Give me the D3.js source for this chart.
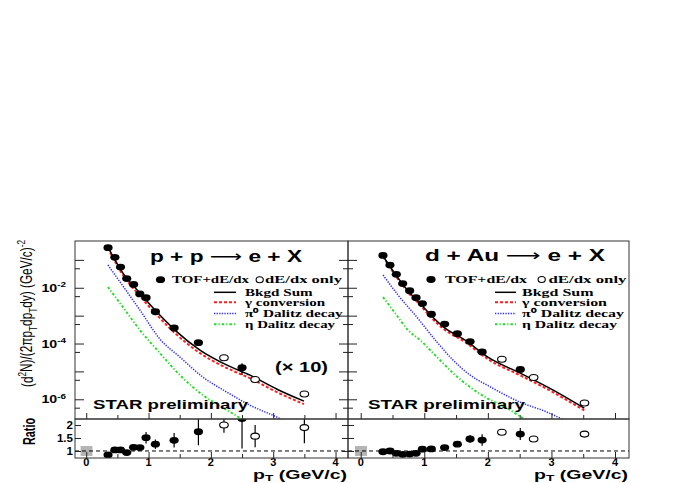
<!DOCTYPE html>
<html><head><meta charset="utf-8">
<script src="https://cdn.jsdelivr.net/npm/d3@7/dist/d3.min.js"></script>
<style>body{margin:0;background:#fff}svg{display:block}</style>
</head><body><svg id="c" width="690" height="483"></svg>
<script>
// ---------------- data ----------------
// p+p (scaled x10), filled = TOF+dE/dx, open = dE/dx only
const ppPt      = [0.35,0.46,0.55,0.65,0.76,0.86,0.96,1.11,1.41,1.80,2.50];
const ppYield   = [0.275,0.123,0.055,0.0214,0.0132,0.0060,0.0044,1.38e-3,3.6e-4,1.07e-4,1.35e-5];
const ppYErr    = [0,0,0,0,0,0,0,0,0,0,0.6e-5];
const ppOpenPt  = [2.21,2.71,3.50];
const ppOpenY   = [3.1e-5,5.1e-6,1.55e-6];
const ppRatio   = [0.85,1.04,1.04,0.94,1.14,1.13,1.51,1.26,1.41,1.74,2.25];
const ppRatErr  = [0,0,0,0,0.04,0.04,0.22,0.18,0.28,0.52,1.15];
const ppOpenRat = [2.0,1.57,1.9];
const ppOpenRatErr = [0.3,0.43,0.6];
// p+p background curves
const ppSumPt   = [0.348,0.589,0.862,1.135,1.424,1.825,2.258,2.627,3.061,3.494];
const ppSum     = [0.289,0.0337,6.46e-3,1.34e-3,3.03e-4,5.79e-5,1.67e-5,7.33e-6,2.30e-6,8.55e-7];
const ppGam     = [0.266,0.0285,5.04e-3,1.05e-3,2.36e-4,4.52e-5,1.31e-5,5.71e-6,1.80e-6,6.67e-7];
const ppPi0Pt   = [0.348,0.589,0.862,1.183,1.504,1.873,2.258,2.627,3.061,3.3];
const ppPi0     = [0.0653,0.0115,1.58e-3,1.44e-4,3.25e-5,6.22e-6,1.80e-6,6.14e-7,2.28e-7,1.26e-7];
const ppEtaPt   = [0.348,0.589,0.862,1.183,1.504,1.873,2.258,2.467,2.6];
const ppEta     = [0.0106,2.03e-3,3.03e-4,4.52e-5,7.33e-6,1.40e-6,4.06e-7,2.09e-7,1.12e-7];

// d+Au
const daPt      = [0.35,0.46,0.56,0.66,0.77,0.87,0.97,1.11,1.32,1.52,1.72,1.91,2.51];
const daYield   = [0.145,0.0653,0.0302,0.0141,7.8e-3,4.4e-3,2.7e-3,1.12e-3,5.0e-4,2.26e-4,1.17e-4,5.0e-5,1.17e-5];
const daOpenPt  = [2.22,2.72,3.52];
const daOpenY   = [2.72e-5,6.07e-6,7.4e-7];
const daRatio   = [0.97,1.0,0.91,0.87,0.88,0.91,1.07,1.08,1.13,1.26,1.46,1.42,1.65];
const daRatErr  = [0,0,0,0,0,0,0.03,0.03,0.04,0.1,0.15,0.22,0.23];
const daOpenRat = [1.72,1.46,1.65];
const daOpenRatErr = [0,0,0];
const daSumPt   = [0.35,0.55,0.75,0.95,1.1,1.3,1.643,2.0,2.509,3.028,3.516];
const daSum     = [0.138,0.0295,7.41e-3,2.51e-3,1.05e-3,3.98e-4,1.32e-4,3.25e-5,8.65e-6,2.12e-6,4.79e-7];
const daGam     = [0.132,0.0269,6.61e-3,2.19e-3,8.91e-4,3.39e-4,1.12e-4,2.75e-5,7.24e-6,1.78e-6,3.98e-7];
const daPi0Pt   = [0.351,0.587,0.855,1.201,1.453,1.721,1.989,2.509,2.934,3.139,3.3];
const daPi0     = [0.0286,5.47e-3,1.05e-3,1.12e-4,2.54e-5,7.33e-6,3.21e-6,7.87e-7,3.44e-7,2.09e-7,1.41e-7];
const daEtaPt   = [0.351,0.540,0.745,0.934,1.201,1.453,1.721,1.989,2.304,2.556,2.7];
const daEta     = [4.63e-3,1.24e-3,3.03e-4,1.32e-4,3.25e-5,8.65e-6,2.72e-6,1.09e-6,4.79e-7,2.09e-7,1.41e-7];

const xTickMajor = [0,1,2,3,4];
const xTickLabels = ["0","1","2","3","4"];
const yDecades = [-1,-2,-3,-4,-5,-6];
const yLabelExp = [-2,-4,-6];
const ratioTicks = [1,1.5,2];
const ratioLabels = ["1","1.5","2"];
const legendLabels = ["Bkgd Sum","\u03b3 conversion","\u03c0\u2070 Dalitz decay","\u03b7 Dalitz decay"];

// ---------------- drawing ----------------
const sans = "'Liberation Sans', Arial, Helvetica, sans-serif";
const serif = "'Liberation Serif', 'Times New Roman', serif";
const svg = d3.select('#c');
const defs = svg.append('defs');

const TOP0 = 241, TOP1 = 419, RAT1 = 458;
const yTop = d3.scaleLog().domain([Math.pow(10,-6.707), Math.pow(10,-0.323)]).range([TOP1, TOP0]);
const yRat = d3.scaleLinear().domain([0.73,2.23]).range([RAT1, TOP1]);

const colSum = '#000', colGam = '#ff1f1f', colPi = '#2a2aff', colEta = '#22dd22';
const styles = [
  {c: colSum, w: 1.5, d: null},
  {c: colGam, w: 2, d: '3,2'},
  {c: colPi,  w: 1.5, d: '1.3,1.3'},
  {c: colEta, w: 1.9, d: '2.5,2,1.2,2'}
];

function txt(sel, x, y, parts, o) {
  o = o || {};
  const sx = o.sx || 1;
  const t = sel.append('text')
    .attr('transform', `translate(${x},${y}) scale(${sx},1)` + (o.rot ? ' rotate(-90)' : ''))
    .attr('font-family', o.family || sans)
    .attr('font-size', o.size || 12)
    .attr('font-weight', o.weight || 'normal')
    .attr('text-anchor', o.anchor || 'start')
    .attr('fill', '#000');
  if (o.len) t.attr('textLength', o.rot ? o.len : o.len / sx).attr('lengthAdjust', 'spacingAndGlyphs');
  if (typeof parts === 'string') parts = [[parts]];
  parts.forEach(p => {
    const ts = t.append('tspan').text(p[0]);
    if (p[1] === 'sup') { ts.attr('font-size', (o.size||12)*0.7).attr('dy', -(o.size||12)*0.42); }
    if (p[1] === 'sub') { ts.attr('font-size', (o.size||12)*0.7).attr('dy', p[2] !== undefined ? p[2] : (o.size||12)*0.3); }
    if (p[1] === 'base') { ts.attr('dy', p[2]); }
    if (p[1] === 'thin') { ts.attr('font-weight','normal').attr('font-family',"'DejaVu Sans', sans-serif"); }
  });
  return t;
}

const panels = [
  {id:'pp', x0:75, x1:348, dom:[-0.18,4.2],
   pt:ppPt, y:ppYield, yerr:ppYErr, opt:ppOpenPt, oy:ppOpenY,
   rat:ppRatio, raterr:ppRatErr, orat:ppOpenRat, oraterr:ppOpenRatErr,
   curves:[[ppSumPt,ppSum],[ppSumPt,ppGam],[ppPi0Pt,ppPi0],[ppEtaPt,ppEta]],
   title:[['p + p '],['\u27f6','thin'],[' e + X']], titleX:150, titleY:262, titleLen:152,
   leg:{dot:[160.5,279.7], tof:[172,77], open:[259.7], dedx:[265,77], lx:[214,236], tx:245, lens:[67.7,80,97.7,90]},
   star:[93,155], times10:true},
  {id:'da', x0:348, x1:629, dom:[-0.2,4.22],
   pt:daPt, y:daYield, yerr:daPt.map(()=>0), opt:daOpenPt, oy:daOpenY,
   rat:daRatio, raterr:daRatErr, orat:daOpenRat, oraterr:daOpenRatErr,
   curves:[[daSumPt,daSum],[daSumPt,daGam],[daPi0Pt,daPi0],[daEtaPt,daEta]],
   title:[['d + Au '],['\u27f6','thin'],[' e + X']], titleX:425, titleY:261, titleLen:180,
   leg:{dot:[431,279.5], tof:[445,82], open:[541.7], dedx:[548.5,78], lx:[495,516], tx:522, lens:[71.6,85,102,95]},
   star:[368,157], times10:false}
];

panels.forEach(P => {
  const x = d3.scaleLinear().domain(P.dom).range([P.x0, P.x1]);
  const g = svg.append('g');

  defs.append('clipPath').attr('id','ct'+P.id).append('rect')
    .attr('x',P.x0).attr('y',TOP0).attr('width',P.x1-P.x0).attr('height',TOP1-TOP0);
  defs.append('clipPath').attr('id','cr'+P.id).append('rect')
    .attr('x',P.x0).attr('y',TOP1).attr('width',P.x1-P.x0).attr('height',RAT1-TOP1);

  // ---- curves ----
  const gc = g.append('g').attr('clip-path', `url(#ct${P.id})`);
  const line = d3.line().x(d=>x(d[0])).y(d=>yTop(d[1])).curve(d3.curveMonotoneX);
  [3,2,1,0].forEach(i => {
    const c = P.curves[i];
    const pts = c[0].map((v,k)=>[v, c[1][k]]);
    gc.append('path').attr('d', line(pts)).attr('fill','none')
      .attr('stroke', styles[i].c).attr('stroke-width', styles[i].w)
      .attr('stroke-dasharray', styles[i].d);
  });

  // ---- data points top ----
  const gp = g.append('g').attr('clip-path', `url(#ct${P.id})`);
  P.pt.forEach((v,k) => {
    if (P.yerr[k] > 0) {
      gp.append('line').attr('x1',x(v)).attr('x2',x(v))
        .attr('y1',yTop(P.y[k]+P.yerr[k])).attr('y2',yTop(P.y[k]-P.yerr[k]))
        .attr('stroke','#000').attr('stroke-width',1.2);
    }
    gp.append('ellipse').attr('cx',x(v)).attr('cy',yTop(P.y[k])).attr('rx',4.6).attr('ry',3.4).attr('fill','#000');
  });
  P.opt.forEach((v,k) => {
    gp.append('ellipse').attr('cx',x(v)).attr('cy',yTop(P.oy[k])).attr('rx',4.3).attr('ry',3.0)
      .attr('fill','#fff').attr('stroke','#000').attr('stroke-width',1.1);
  });

  // ---- ratio panel ----
  const gr = g.append('g').attr('clip-path', `url(#cr${P.id})`);
  gr.append('rect').attr('x', x(-0.09)).attr('width', x(0.1)-x(-0.09))
    .attr('y', yRat(1.19)).attr('height', yRat(0.81)-yRat(1.19)).attr('fill','#b4b4b4');
  gr.append('line').attr('x1',P.x0).attr('x2',P.x1).attr('y1',yRat(1)).attr('y2',yRat(1))
    .attr('stroke','#000').attr('stroke-width',1).attr('stroke-dasharray','4,3');
  P.pt.forEach((v,k) => {
    if (P.raterr[k] > 0) {
      gr.append('line').attr('x1',x(v)).attr('x2',x(v))
        .attr('y1',yRat(P.rat[k]+P.raterr[k])).attr('y2',yRat(P.rat[k]-P.raterr[k]))
        .attr('stroke','#000').attr('stroke-width',1.2);
    }
    gr.append('ellipse').attr('cx',x(v)).attr('cy',yRat(P.rat[k])).attr('rx',4.6).attr('ry',3.4).attr('fill','#000');
  });
  P.opt.forEach((v,k) => {
    if (P.oraterr[k] > 0) {
      gr.append('line').attr('x1',x(v)).attr('x2',x(v))
        .attr('y1',yRat(P.orat[k]+P.oraterr[k])).attr('y2',yRat(P.orat[k]-P.oraterr[k]))
        .attr('stroke','#000').attr('stroke-width',1.2);
    }
    gr.append('ellipse').attr('cx',x(v)).attr('cy',yRat(P.orat[k])).attr('rx',4.3).attr('ry',3.0)
      .attr('fill','#fff').attr('stroke','#000').attr('stroke-width',1.1);
  });

  // ---- axes ticks (x) ----
  const halfTicks = d3.range(0.5, 4.01, 1);
  [[TOP1, xTickMajor, 6],[TOP1, halfTicks, 4],[RAT1, xTickMajor, 6],[RAT1, halfTicks, 4]].forEach(a => {
    const ax = g.append('g').attr('transform',`translate(0,${a[0]})`)
      .call(d3.axisBottom(x).tickValues(a[1]).tickSize(-a[2]).tickFormat(''));
    ax.select('.domain').remove();
    ax.selectAll('line').attr('stroke','#222');
  });
  xTickMajor.forEach((v,k) => txt(g, x(v), 466, xTickLabels[k], {size:10, weight:'bold', anchor:'middle', sx:1.1}));

  // frame
  g.append('rect').attr('x',P.x0).attr('y',TOP0).attr('width',P.x1-P.x0).attr('height',TOP1-TOP0)
    .attr('fill','none').attr('stroke','#333').attr('stroke-width',1);
  g.append('rect').attr('x',P.x0).attr('y',TOP1).attr('width',P.x1-P.x0).attr('height',RAT1-TOP1)
    .attr('fill','none').attr('stroke','#333').attr('stroke-width',1);

  // ---- texts ----
  txt(g, P.titleX, P.titleY, P.title, {size:16.5, weight:'bold', len:P.titleLen});
  txt(g, P.star[0], 408.5, 'STAR preliminary', {size:13.5, weight:'bold', len:P.star[1]});
  if (P.times10) txt(g, 275, 372, '(\u00d7 10)', {size:14, weight:'bold', len:53});

  // legend
  const L = P.leg;
  g.append('ellipse').attr('cx',L.dot[0]).attr('cy',L.dot[1]).attr('rx',4.6).attr('ry',3.4).attr('fill','#000');
  txt(g, L.tof[0], 283, 'TOF+dE/dx', {size:10.5, weight:'bold', family:serif, len:L.tof[1]});
  g.append('ellipse').attr('cx',L.open[0]).attr('cy',L.dot[1]).attr('rx',3.6).attr('ry',3.0)
    .attr('fill','#fff').attr('stroke','#000').attr('stroke-width',1.1);
  txt(g, L.dedx[0], 283, 'dE/dx only', {size:10.5, weight:'bold', family:serif, len:L.dedx[1]});
  const rows = [292.3, 302.3, 313.5, 324.2];
  rows.forEach((ry,i) => {
    g.append('line').attr('x1',L.lx[0]).attr('x2',L.lx[1]).attr('y1',ry).attr('y2',ry)
      .attr('stroke',styles[i].c).attr('stroke-width',styles[i].w).attr('stroke-dasharray',styles[i].d);
    txt(g, L.tx, ry+3.6, legendLabels[i], {size:10.5, weight:'bold', family:serif, len:L.lens[i]});
  });

  // x title
  txt(g, P.x1 - 1, 478.5, [['p'],['T','sub',2],[' (GeV/c)','base',-2]], {size:13, weight:'bold', anchor:'end', sx:1.5});
});

// ---- y axes (shared scales) ----
function yTicks(xpos, dir) {
  const decVals = yDecades.map(e=>Math.pow(10,e));
  const halfVals = [0,-1,-2,-3,-4,-5,-6].map(e=>5*Math.pow(10,e-1)).filter(v=>v<Math.pow(10,-0.323)&&v>Math.pow(10,-6.707));
  [[decVals,9],[halfVals,5]].forEach(a => {
    const ax = svg.append('g').attr('transform',`translate(${xpos},0)`)
      .call((dir>0?d3.axisLeft(yTop):d3.axisRight(yTop)).tickValues(a[0]).tickSize(-a[1]).tickFormat(''));
    ax.select('.domain').remove();
    ax.selectAll('line').attr('stroke','#222');
  });
  const ar = svg.append('g').attr('transform',`translate(${xpos},0)`)
    .call((dir>0?d3.axisLeft(yRat):d3.axisRight(yRat)).tickValues(ratioTicks).tickSize(-6).tickFormat(''));
  ar.select('.domain').remove();
  ar.selectAll('line').attr('stroke','#222');
}
yTicks(75, 1);
yTicks(348, -1);
yTicks(348, 1);

yLabelExp.forEach(e => {
  txt(svg, 66, yTop(Math.pow(10,e))+4, [['10'],[String(e),'sup']], {size:10.5, weight:'bold', anchor:'end', sx:1.35});
});
ratioTicks.forEach((v,k) => txt(svg, 73, yRat(v)+4, ratioLabels[k], {size:10.5, weight:'bold', anchor:'end', sx:1.1}));

// axis titles
txt(svg, 33, 387, [['(d'],['2','sup'],['N)/(2\u03c0p','base',4.2],['T','sub'],['dp','base',-3.6],['T','sub'],['dy) (GeV/c)','base',-3.6],['-2','sup']],
    {size:11, rot:true, sx:1.45, len:147});
txt(svg, 35, 445, 'Ratio', {size:10.5, weight:'bold', rot:true, sx:1.5, len:27});
</script></body></html>
